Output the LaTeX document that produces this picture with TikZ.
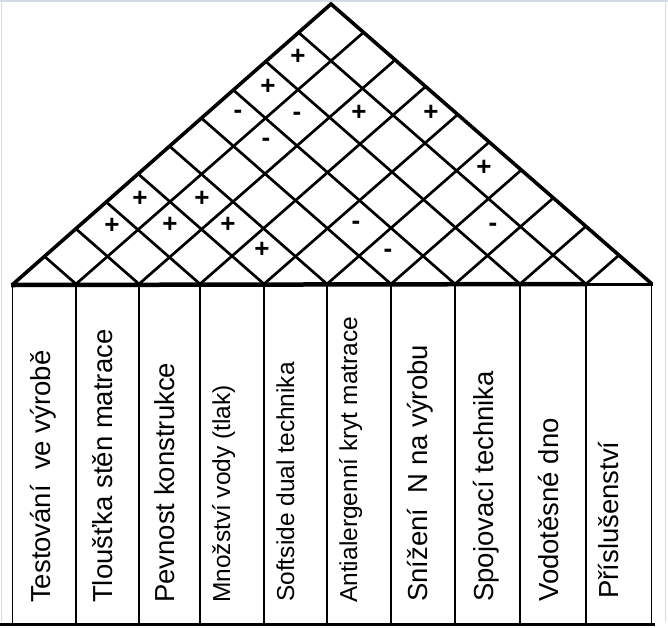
\documentclass[tikz,border=0pt]{standalone}
\usepackage{fontspec}
\setmainfont{Liberation Sans}
\begin{document}
\begin{tikzpicture}[x=1pt,y=-1pt,
  roofline/.style={line width=2.7pt,line cap=round},
  roofedge/.style={line width=3.6pt,line join=miter},
  colline/.style={line width=1.4pt},
  framecol/.style={draw={rgb,255:red,214;green,218;blue,230},line width=1.2pt},
  lab/.style={rotate=90,anchor=base west,inner sep=0pt},
  bigfont/.style={font=\fontsize{27.5}{30}\selectfont},
  smallfont/.style={font=\fontsize{24.5}{27}\selectfont},
  signmark/.style={inner sep=0pt,font=\bfseries\fontsize{26}{28}\selectfont}]
\useasboundingbox (0,0) rectangle (668,627);
% faint frame of the scan
\draw[framecol] (0,1) -- (668,1);
\draw[framecol] (1.5,0) -- (1.5,622);
\draw[framecol] (665.5,0) -- (665.5,622);
% roof lattice
\begin{scope}
  \clip (12,284) -- (331,4) -- (652,284) -- cycle;
  \foreach \xk in {76,139,200,264,327,391,455,520,586}{
    \draw[roofline] (\xk,284) -- ++(700,-612.5);
    \draw[roofline] (\xk,284) -- ++(-700,-612.5);
  }
\end{scope}
\draw[roofedge] (12,285) -- (331,4) -- (652,284);
% base of the roof
\draw[line width=4.5pt] (11,285) -- (587,284);
\draw[line width=3pt] (586,284) -- (653,284);
% columns
\foreach \xk in {12.5,76,139,200,264,327,391,455,520,586,651.5}{
  \draw[colline] (\xk,285) -- (\xk,623);
}
\draw[line width=3.2pt] (0,624.5) -- (655,624.5);
% column labels
\node[lab,bigfont]   (t1)  at (50,603)  {Testování\ \ ve výrobě};
\node[lab,bigfont]   (t2)  at (112,603) {Tloušťka stěn matrace};
\node[lab,bigfont]   (t3)  at (174,603) {Pevnost konstrukce};
\node[lab,smallfont] (t4)  at (230,603) {Množství vody (tlak)};
\node[lab,smallfont] (t5)  at (294,602) {Softside dual technika};
\node[lab,smallfont] (t6)  at (357,603) {Antialergenní kryt matrace};
\node[lab,bigfont]   (t7)  at (427,602) {Snížení\ \ N na výrobu};
\node[lab,bigfont]   (t8)  at (493,602) {Spojovací technika};
\node[lab,bigfont]   (t9)  at (558,602) {Vodotěsné dno};
\node[lab,bigfont]   (t10) at (618,599) {Příslušenství};
% correlation marks
\node[signmark] (m1)  at (298,57)  {+};
\node[signmark] (m2)  at (268,87)  {+};
\node[signmark] (m3)  at (238,114) {-};
\node[signmark] (m4)  at (297,116) {-};
\node[signmark] (m5)  at (359,113) {+};
\node[signmark] (m6)  at (431,113) {+};
\node[signmark] (m7)  at (266,142) {-};
\node[signmark] (m8)  at (484,168) {+};
\node[signmark] (m9)  at (140,199) {+};
\node[signmark] (m10) at (202,199) {+};
\node[signmark] (m11) at (112,226) {+};
\node[signmark] (m12) at (170,225) {+};
\node[signmark] (m13) at (228,225) {+};
\node[signmark] (m14) at (356,225) {-};
\node[signmark] (m15) at (493,227) {-};
\node[signmark] (m16) at (262,250) {+};
\node[signmark] (m17) at (388,253) {-};
\end{tikzpicture}
\end{document}
